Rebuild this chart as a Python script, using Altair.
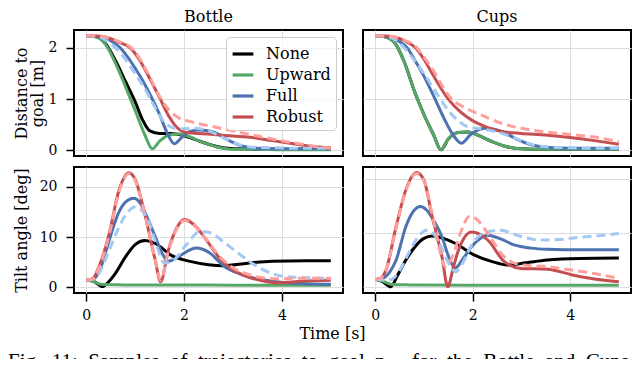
import altair as alt
import pandas as pd

FONT = "DejaVu Serif"
CAPTION_FONT = "Liberation Serif"
SERIES = ["None", "Upward", "Full", "Robust"]
SERIES_COLORS = ["#000000", "#55A868", "#4C72B0", "#C44E52"]
DASHED = ["Full", "Robust"]
DASHED_COLORS = ["#A1C9F4", "#FF9F9B"]
X_TICKS = [0, 2, 4]
DIST_TICKS = [0, 1, 2]
TILT_TICKS = [0, 10, 20]
CAPTION_WORDS = ["Fig.", "11:", "Samples", "of", "trajectories", "to", "goal", "p",
                 "\u00a0\u00a0\u00a0for", "the", "Bottle", "and", "Cups"]

# ---------------- Bottle : distance to goal [m] ----------------
bd_none_t = [0, 0.2, 0.4, 0.6, 0.8, 1.0, 1.15, 1.3, 1.5, 1.7, 1.9, 2.2, 2.5, 2.8, 3.1, 3.5, 4.0, 4.5, 5.0]
bd_none_v = [2.24, 2.22, 2.08, 1.75, 1.35, 0.95, 0.6, 0.38, 0.33, 0.33, 0.31, 0.22, 0.12, 0.05, 0.03, 0.02, 0.02, 0.02, 0.02]
bd_up_t = [0, 0.2, 0.4, 0.6, 0.8, 1.0, 1.2, 1.35, 1.5, 1.7, 1.9, 2.1, 2.4, 2.7, 3.0, 3.5, 4.0, 4.5, 5.0]
bd_up_v = [2.24, 2.22, 2.06, 1.7, 1.25, 0.78, 0.3, 0.03, 0.18, 0.3, 0.32, 0.27, 0.15, 0.06, 0.02, 0.02, 0.01, 0.01, 0.01]
bd_full_t = [0, 0.3, 0.5, 0.7, 0.9, 1.1, 1.3, 1.5, 1.65, 1.8, 1.95, 2.1, 2.3, 2.6, 2.9, 3.2, 3.5, 4.0, 4.5, 5.0]
bd_full_v = [2.24, 2.22, 2.14, 2.0, 1.75, 1.45, 1.1, 0.7, 0.35, 0.13, 0.25, 0.36, 0.4, 0.36, 0.2, 0.08, 0.04, 0.03, 0.03, 0.03]
bd_rob_t = [0, 0.3, 0.5, 0.7, 0.9, 1.1, 1.3, 1.5, 1.7, 1.85, 2.0, 2.3, 2.6, 3.0, 3.4, 3.8, 4.3, 4.7, 5.0]
bd_rob_v = [2.24, 2.23, 2.18, 2.1, 2.0, 1.75, 1.4, 1.03, 0.65, 0.45, 0.36, 0.33, 0.31, 0.28, 0.25, 0.19, 0.12, 0.07, 0.05]
bd_full_d_t = [0, 0.25, 0.45, 0.6, 0.8, 1.0, 1.2, 1.4, 1.6, 1.75, 1.9, 2.2, 2.5, 2.8, 3.1, 3.4, 3.8, 4.5, 5.0]
bd_full_d_v = [2.24, 2.22, 2.12, 2.0, 1.78, 1.5, 1.2, 0.85, 0.55, 0.45, 0.42, 0.43, 0.38, 0.25, 0.12, 0.06, 0.05, 0.04, 0.04]
bd_rob_d_t = [0, 0.3, 0.5, 0.7, 0.9, 1.1, 1.3, 1.5, 1.7, 1.9, 2.1, 2.4, 2.7, 3.1, 3.5, 4.1, 4.6, 5.0]
bd_rob_d_v = [2.24, 2.23, 2.19, 2.11, 2.02, 1.78, 1.43, 1.05, 0.78, 0.63, 0.57, 0.5, 0.44, 0.36, 0.28, 0.17, 0.09, 0.04]

# ---------------- Cups : distance to goal [m] ----------------
cd_none_t = [0, 0.2, 0.4, 0.6, 0.8, 1.0, 1.2, 1.35, 1.5, 1.7, 1.9, 2.1, 2.4, 2.7, 3.0, 3.5, 4.0, 4.5, 5.0]
cd_none_v = [2.24, 2.22, 2.1, 1.72, 1.17, 0.7, 0.3, 0.01, 0.22, 0.35, 0.36, 0.3, 0.17, 0.07, 0.03, 0.02, 0.02, 0.02, 0.02]
cd_up_t = [0, 0.2, 0.4, 0.6, 0.8, 1.0, 1.2, 1.35, 1.5, 1.7, 1.9, 2.1, 2.4, 2.7, 3.0, 3.5, 4.0, 4.5, 5.0]
cd_up_v = [2.24, 2.22, 2.1, 1.72, 1.17, 0.7, 0.3, 0.01, 0.22, 0.35, 0.36, 0.3, 0.17, 0.07, 0.03, 0.02, 0.02, 0.02, 0.02]
cd_full_t = [0, 0.3, 0.5, 0.66, 0.8, 1.0, 1.23, 1.4, 1.6, 1.77, 1.95, 2.25, 2.6, 2.9, 3.2, 3.5, 4.0, 4.5, 5.0]
cd_full_v = [2.24, 2.22, 2.12, 2.0, 1.78, 1.45, 1.0, 0.65, 0.3, 0.14, 0.3, 0.43, 0.37, 0.22, 0.11, 0.06, 0.04, 0.04, 0.04]
cd_rob_t = [0, 0.3, 0.6, 0.83, 1.0, 1.2, 1.5, 1.75, 1.98, 2.3, 2.59, 3.0, 3.5, 4.0, 4.5, 5.0]
cd_rob_v = [2.24, 2.23, 2.14, 2.0, 1.78, 1.45, 1.0, 0.75, 0.59, 0.45, 0.37, 0.33, 0.3, 0.25, 0.19, 0.12]
cd_full_d_t = [0, 0.3, 0.6, 0.8, 1.0, 1.2, 1.34, 1.5, 1.7, 1.9, 2.1, 2.36, 2.7, 2.97, 3.2, 3.5, 4.0, 4.5, 5.0]
cd_full_d_v = [2.24, 2.21, 2.0, 1.76, 1.5, 1.2, 1.0, 0.78, 0.58, 0.46, 0.43, 0.39, 0.3, 0.2, 0.12, 0.07, 0.05, 0.04, 0.04]
cd_rob_d_t = [0, 0.3, 0.6, 0.86, 1.0, 1.2, 1.4, 1.57, 1.75, 2.0, 2.3, 2.59, 3.0, 3.5, 4.0, 4.5, 5.0]
cd_rob_d_v = [2.24, 2.23, 2.15, 2.0, 1.82, 1.55, 1.22, 1.0, 0.88, 0.76, 0.64, 0.53, 0.43, 0.36, 0.31, 0.26, 0.17]

# ---------------- Bottle : tilt angle [deg] ----------------
bt_none_t = [0, 0.15, 0.33, 0.45, 0.6, 0.8, 1.0, 1.2, 1.4, 1.75, 2.1, 2.5, 2.8, 3.3, 3.8, 4.5, 5.0]
bt_none_v = [1.45, 1.2, 0.15, 1.0, 2.8, 6.0, 8.5, 9.3, 8.8, 6.3, 5.2, 4.5, 4.3, 4.8, 5.2, 5.3, 5.3]
bt_up_t = [0, 0.1, 0.3, 0.6, 1.0, 2.0, 3.0, 4.0, 5.0]
bt_up_v = [1.45, 1.3, 0.6, 0.5, 0.45, 0.45, 0.42, 0.4, 0.4]
bt_full_t = [0, 0.15, 0.3, 0.47, 0.67, 0.85, 0.97, 1.1, 1.25, 1.41, 1.55, 1.68, 1.9, 2.25, 2.5, 2.83, 3.1, 3.44, 3.98, 4.5, 5.0]
bt_full_v = [1.45, 1.6, 4.0, 9.4, 15.0, 17.3, 17.7, 16.8, 13.8, 10.1, 6.8, 5.2, 6.2, 7.8, 7.0, 4.1, 2.8, 1.8, 1.0, 0.7, 0.6]
bt_rob_t = [0, 0.13, 0.26, 0.47, 0.67, 0.87, 1.0, 1.21, 1.41, 1.52, 1.68, 1.85, 2.0, 2.2, 2.45, 2.76, 3.0, 3.3, 3.6, 3.91, 4.4, 5.0]
bt_rob_v = [1.45, 1.7, 4.1, 10.7, 19.3, 22.8, 21.5, 14.0, 5.4, 1.1, 7.4, 11.8, 13.5, 12.5, 9.5, 5.4, 3.5, 2.1, 1.3, 0.9, 1.2, 1.4]
bt_full_d_t = [0, 0.15, 0.3, 0.47, 0.67, 0.85, 1.0, 1.15, 1.3, 1.45, 1.6, 1.8, 2.05, 2.33, 2.55, 2.76, 3.0, 3.3, 3.78, 4.1, 4.5, 5.0]
bt_full_d_v = [1.45, 1.6, 3.5, 7.4, 12.0, 15.0, 16.0, 15.2, 12.5, 8.0, 4.8, 5.5, 8.5, 11.1, 10.8, 9.4, 7.6, 5.4, 2.8, 2.1, 1.9, 1.8]
bt_rob_d_t = [0, 0.13, 0.26, 0.47, 0.67, 0.87, 1.0, 1.21, 1.41, 1.52, 1.68, 1.85, 2.0, 2.2, 2.45, 2.76, 3.0, 3.3, 3.6, 3.91, 4.4, 5.0]
bt_rob_d_v = [1.45, 1.6, 3.9, 10.5, 19.0, 22.6, 21.3, 14.0, 5.6, 1.4, 7.2, 11.6, 13.3, 12.4, 9.6, 5.8, 3.9, 2.6, 1.9, 1.7, 1.8, 1.8]

# ---------------- Cups : tilt angle [deg] ----------------
ct_none_t = [0, 0.15, 0.32, 0.45, 0.63, 0.85, 1.0, 1.17, 1.4, 1.64, 2.04, 2.4, 2.72, 3.1, 3.53, 4.2, 5.0]
ct_none_v = [1.42, 1.0, 0.06, 2.0, 5.0, 7.8, 9.0, 9.44, 9.0, 8.1, 5.9, 4.7, 4.07, 4.5, 5.0, 5.3, 5.37]
ct_up_t = [0, 0.15, 0.35, 0.7, 1.0, 2.0, 3.0, 4.0, 5.0]
ct_up_v = [1.42, 1.1, 0.45, 0.4, 0.38, 0.35, 0.33, 0.32, 0.32]
ct_full_t = [0, 0.15, 0.3, 0.43, 0.63, 0.8, 0.93, 1.05, 1.2, 1.37, 1.5, 1.64, 1.8, 1.98, 2.31, 2.6, 2.85, 3.2, 3.53, 4.2, 5.0]
ct_full_v = [1.42, 1.6, 2.8, 5.0, 11.2, 14.2, 14.9, 14.3, 12.3, 9.3, 5.8, 3.5, 5.2, 7.5, 9.6, 8.8, 7.8, 7.2, 7.0, 6.9, 6.9]
ct_rob_t = [0, 0.1, 0.22, 0.43, 0.63, 0.85, 1.0, 1.17, 1.37, 1.49, 1.6, 1.71, 1.98, 2.31, 2.65, 2.99, 3.53, 4.07, 4.5, 5.0]
ct_rob_v = [1.42, 1.6, 3.1, 11.2, 18.0, 21.2, 19.8, 13.0, 5.6, 0.05, 3.5, 6.85, 10.2, 8.7, 4.7, 3.45, 3.3, 2.2, 1.5, 1.0]
ct_full_d_t = [0, 0.2, 0.35, 0.5, 0.7, 0.9, 1.05, 1.2, 1.35, 1.5, 1.65, 1.8, 1.98, 2.31, 2.58, 2.9, 3.4, 3.8, 4.2, 4.6, 5.0]
ct_full_d_v = [1.42, 1.3, 1.5, 3.0, 6.5, 9.5, 10.5, 9.8, 7.5, 4.5, 2.8, 4.5, 7.8, 10.2, 10.5, 9.6, 8.7, 8.8, 9.2, 9.5, 9.9]
ct_rob_d_t = [0, 0.1, 0.22, 0.43, 0.63, 0.85, 1.0, 1.17, 1.32, 1.44, 1.6, 1.75, 1.94, 2.1, 2.31, 2.65, 2.99, 3.5, 4.07, 4.5, 5.0]
ct_rob_d_v = [1.42, 1.6, 3.1, 11.0, 17.8, 21.0, 19.7, 13.5, 7.0, 3.75, 6.0, 10.0, 13.1, 12.4, 9.9, 5.6, 4.1, 3.8, 3.1, 2.5, 1.6]

PANELS = {
    "bd": ({"None": (bd_none_t, bd_none_v), "Upward": (bd_up_t, bd_up_v),
            "Full": (bd_full_t, bd_full_v), "Robust": (bd_rob_t, bd_rob_v)},
           {"Full": (bd_full_d_t, bd_full_d_v), "Robust": (bd_rob_d_t, bd_rob_d_v)}),
    "cd": ({"None": (cd_none_t, cd_none_v), "Upward": (cd_up_t, cd_up_v),
            "Full": (cd_full_t, cd_full_v), "Robust": (cd_rob_t, cd_rob_v)},
           {"Full": (cd_full_d_t, cd_full_d_v), "Robust": (cd_rob_d_t, cd_rob_d_v)}),
    "bt": ({"None": (bt_none_t, bt_none_v), "Upward": (bt_up_t, bt_up_v),
            "Full": (bt_full_t, bt_full_v), "Robust": (bt_rob_t, bt_rob_v)},
           {"Full": (bt_full_d_t, bt_full_d_v), "Robust": (bt_rob_d_t, bt_rob_d_v)}),
    "ct": ({"None": (ct_none_t, ct_none_v), "Upward": (ct_up_t, ct_up_v),
            "Full": (ct_full_t, ct_full_v), "Robust": (ct_rob_t, ct_rob_v)},
           {"Full": (ct_full_d_t, ct_full_d_v), "Robust": (ct_rob_d_t, ct_rob_d_v)}),
}

H = 126
X_DOMAIN = [-0.25, 5.25]
CAPTION = "\u00a0\u00a0".join(CAPTION_WORDS)


def build_df(key):
    solid, dashed = PANELS[key]
    rows = []
    for s in SERIES:
        t, v = solid[s]
        rows += [{"series": s, "kind": "solid", "t": a, "v": b} for a, b in zip(t, v)]
    for s in DASHED:
        t, v = dashed[s]
        rows += [{"series": s, "kind": "dashed", "t": a, "v": b} for a, b in zip(t, v)]
    return pd.DataFrame(rows)


def panel(key, width, ydomain, yticks, left, bottom, title=None, ytitle=None,
          legend=False, xtitle=None, caption=False):
    base = alt.Chart(build_df(key))
    xaxis_kw = dict(values=X_TICKS, grid=True, domain=False, labels=bottom,
                    ticks=bottom, tickSize=8, labelPadding=7, format="d")
    if xtitle:
        xaxis_kw.update(title=xtitle, titleX=258, titleY=45, titleAlign="center",
                        titleBaseline="alphabetic", titleFontSize=16)
    else:
        xaxis_kw.update(title=None)
    yaxis_kw = dict(values=yticks, grid=True, domain=False, labels=left,
                    ticks=left, tickSize=8, labelPadding=9, format="d")
    if ytitle:
        yaxis_kw.update(title=ytitle, titleX=-53, titleY=H / 2, titleAlign="center",
                        titleBaseline="middle", titleAngle=270, titleFontSize=16,
                        titleLineHeight=16)
    else:
        yaxis_kw.update(title=None)
    x = alt.X("t:Q", scale=alt.Scale(domain=X_DOMAIN, nice=False, zero=False),
              axis=alt.Axis(**xaxis_kw))
    y = alt.Y("v:Q", scale=alt.Scale(domain=ydomain, nice=False, zero=False),
              axis=alt.Axis(**yaxis_kw))
    if legend:
        leg = alt.Legend(title=None, orient="top-right", offset=7, padding=5,
                         fillColor="rgba(255,255,255,0.8)", strokeColor="#cccccc",
                         cornerRadius=4, labelFont=FONT, labelFontSize=16,
                         labelColor="black", labelOffset=11, symbolType="stroke",
                         symbolSize=430, symbolStrokeWidth=3.2, rowPadding=1)
    else:
        leg = None
    color = alt.Color("series:N", scale=alt.Scale(domain=SERIES, range=SERIES_COLORS),
                      legend=leg)
    layers = []
    for s in SERIES:
        layers.append(
            base.transform_filter((alt.datum.series == s) & (alt.datum.kind == "solid"))
            .mark_line(strokeWidth=3, interpolate="monotone", strokeJoin="round")
            .encode(x=x, y=y, color=color)
        )
    for s, c in zip(DASHED, DASHED_COLORS):
        layers.append(
            base.transform_filter((alt.datum.series == s) & (alt.datum.kind == "dashed"))
            .mark_line(strokeWidth=3, interpolate="monotone", color=c, strokeDash=[9, 5])
            .encode(x=x, y=y)
        )
    if caption:
        layers.append(
            alt.Chart(pd.DataFrame({"caption": [CAPTION]}))
            .mark_text(align="left", baseline="alphabetic", font=CAPTION_FONT,
                       fontSize=21, color="black")
            .encode(text="caption:N", x=alt.value(-66), y=alt.value(201))
        )
    props = dict(width=width, height=H)
    if title:
        props["title"] = alt.TitleParams(title, anchor="middle", offset=5)
    return alt.layer(*layers).properties(**props)


tl = panel("bd", 269, [-0.11, 2.35], DIST_TICKS, True, False, title="Bottle",
           ytitle=["Distance to", "goal [m]"], legend=True)
tr = panel("cd", 268, [-0.11, 2.35], DIST_TICKS, False, False, title="Cups")
bl = panel("bt", 269, [-1.14, 23.94], TILT_TICKS, True, True,
           ytitle="Tilt angle [deg]", xtitle="Time [s]", caption=True)
br = panel("ct", 268, [-1.1, 22.2], TILT_TICKS, False, True)

chart = (
    alt.concat(tl, tr, bl, br, columns=2, spacing={"row": 11, "column": 20},
               bounds="flush")
    .resolve_scale(color="independent")
    .properties(autosize=alt.AutoSizeParams(type="none"),
                padding={"left": 66, "top": 22, "right": 558, "bottom": 329})
    .configure_view(stroke="black", strokeWidth=2)
    .configure_axis(labelFont=FONT, titleFont=FONT, labelFontSize=14,
                    labelColor="black", titleColor="black", titleFontWeight="normal",
                    gridColor="#dddddd", gridWidth=1, tickColor="black", tickWidth=1.5)
    .configure_title(font=FONT, fontSize=16, fontWeight="normal", color="black")
)

chart.save("out.html", embed_options={"renderer": "svg", "actions": False})
